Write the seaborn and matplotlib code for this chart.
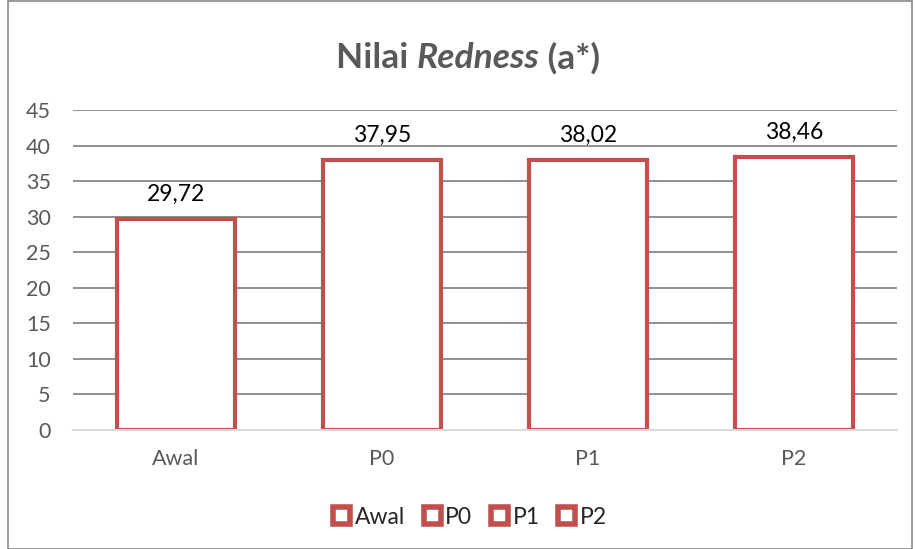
import matplotlib
matplotlib.use("Agg")
import matplotlib.pyplot as plt
import seaborn as sns
import pandas as pd
from matplotlib.patches import Patch, Rectangle

categories = ["Awal", "P0", "P1", "P2"]
values = [29.72, 37.95, 38.02, 38.46]
yticks = [0, 5, 10, 15, 20, 25, 30, 35, 40, 45]

RED = "#C0504D"
GRAY = "#595959"

sns.set_theme(style="white")
plt.rcParams["font.family"] = ["Lato", "DejaVu Sans"]

df = pd.DataFrame({"cat": categories, "val": values})

fig = plt.figure(figsize=(9.15, 5.49), dpi=100)
ax = fig.add_axes([73/915, 1-430/549, (897-73)/915, (430-110)/549])

sns.barplot(data=df, x="cat", y="val", ax=ax, color="white", edgecolor=RED,
            linewidth=3, width=0.57, saturation=1, zorder=3)

ax.set_ylim(0, 45)
ax.set_xlim(-0.5, 3.5)
ax.set_yticks(yticks)
ax.set_yticklabels([str(t) for t in yticks])
ax.yaxis.grid(True, color="#878787", linewidth=1.3, zorder=0)
ax.set_axisbelow(True)
for s in ["top", "right", "left"]:
    ax.spines[s].set_visible(False)
ax.spines["bottom"].set_color("#D9D9D9")
ax.spines["bottom"].set_linewidth(1.5)
ax.spines["bottom"].set_zorder(4)
ax.tick_params(axis="both", length=0, labelsize=15.5, labelcolor=GRAY)
ax.tick_params(axis="y", pad=16)
ax.tick_params(axis="x", pad=14)
ax.set_xlabel("")
ax.set_ylabel("")

ax.bar_label(ax.containers[0], labels=[f"{v:.2f}".replace(".", ",") for v in values],
             padding=10, fontsize=16.5, color="black")

# Title with italic part
fig.canvas.draw()
renderer = fig.canvas.get_renderer()
parts = [("Nilai ", "normal"), ("Redness", "italic"), (" (a*)", "normal")]
texts = []
for s, st in parts:
    t = fig.text(0, 1-58/549, s, fontsize=25.5, fontweight="bold", style=st,
                 color=GRAY, va="center", ha="left")
    texts.append(t)
widths = [t.get_window_extent(renderer).width for t in texts]
total = sum(widths)
x = 468 - total/2
for t, w in zip(texts, widths):
    t.set_x(x/915)
    x += w

handles = [Patch(facecolor="white", edgecolor=RED, linewidth=4, label=c) for c in categories]
fig.legend(handles=handles, loc="center", bbox_to_anchor=(470/915, 1-517/549), ncol=4,
           frameon=False, fontsize=16.5, handlelength=0.75, handleheight=0.75,
           handletextpad=0.2, columnspacing=0.8)

fig.add_artist(Rectangle((8/915, 0.5/549), (912-8)/915, 548/549, transform=fig.transFigure,
                         fill=False, edgecolor="#898989", linewidth=1.2))

fig.savefig("out.png", dpi=100)
